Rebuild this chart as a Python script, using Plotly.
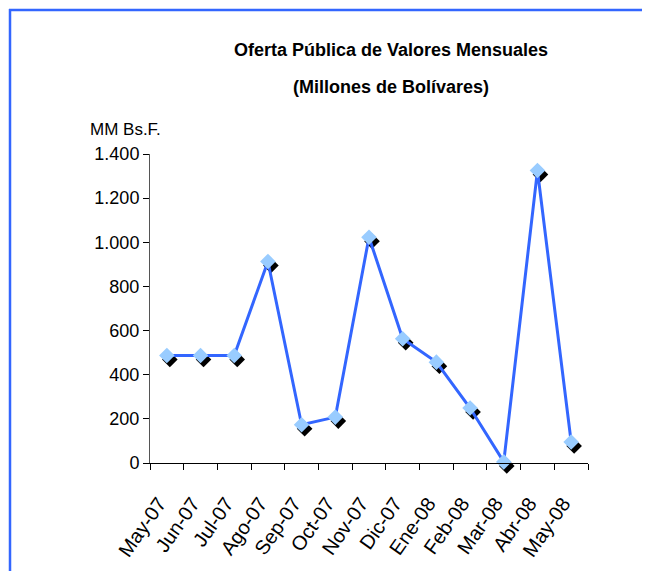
import plotly.graph_objects as go

meses = ["May-07", "Jun-07", "Jul-07", "Ago-07", "Sep-07", "Oct-07", "Nov-07",
         "Dic-07", "Ene-08", "Feb-08", "Mar-08", "Abr-08", "May-08"]
valores = [487, 487, 487, 913, 173, 208, 1023, 563, 457, 249, 5, 1325, 95]
y_ticks = [0, 200, 400, 600, 800, 1000, 1200, 1400]
y_tick_labels = ["0", "200", "400", "600", "800", "1.000", "1.200", "1.400"]

FONT = "Liberation Sans Narrow, Arial Narrow, Liberation Sans, Arial, sans-serif"
# page body adds an 8px margin, so the figure is 8px smaller and shifted
W, H = 642, 563
ML, MR, MT, MB = 142, 59, 146, 104
PW, PH = W - ML - MR, H - MT - MB
DX, DY = 3, 4

def px_x(x):
    return (x - ML) / PW

def px_y(y):
    return (H - MB - y) / PH

fig = go.Figure()
# shadow (drawn first, invisible axes shifted right/down)
fig.add_trace(go.Scatter(x=meses, y=valores, mode="markers",
                         marker=dict(symbol="diamond", size=12, color="black"),
                         cliponaxis=False, hoverinfo="skip", showlegend=False,
                         xaxis="x", yaxis="y"))
# main series
fig.add_trace(go.Scatter(x=meses, y=valores, mode="lines+markers",
                         line=dict(color="#3366FF", width=3),
                         marker=dict(symbol="diamond", size=12, color="#99CCFF"),
                         cliponaxis=False, showlegend=False,
                         xaxis="x2", yaxis="y2"))

hidden = dict(visible=False, showgrid=False, zeroline=False)
fig.update_layout(
    width=W, height=H,
    margin=dict(l=ML, r=MR, t=MT, b=MB),
    paper_bgcolor="white", plot_bgcolor="rgba(0,0,0,0)",
    font=dict(family=FONT, size=18, color="black"),
    xaxis=dict(domain=[DX / PW, 1], anchor="y", type="category",
               range=[-0.5, len(meses) - 0.5], **hidden),
    yaxis=dict(domain=[0, 1 - DY / PH], anchor="x", range=[0, 1400], **hidden),
    xaxis2=dict(domain=[0, 1 - DX / PW], anchor="y2", type="category",
                range=[-0.5, len(meses) - 0.5], showgrid=False, zeroline=False,
                showline=True, linecolor="black", linewidth=1, automargin=False,
                ticks="outside", ticklen=6, tickcolor="black", tickson="boundaries",
                tickangle=-55, ticklabelstandoff=20, ticklabelshift=-8,
                tickfont=dict(family=FONT, size=20)),
    yaxis2=dict(domain=[DY / PH, 1], anchor="x2", range=[0, 1400], showgrid=False,
                zeroline=False, showline=True, linecolor="#555", linewidth=1,
                automargin=False,
                ticks="outside", ticklen=6, tickcolor="black",
                tickvals=y_ticks, ticktext=y_tick_labels,
                tickfont=dict(family=FONT, size=18)),
    shapes=[
        dict(type="line", xref="paper", yref="paper", x0=px_x(1), x1=px_x(W + 5),
             y0=px_y(2), y1=px_y(2), line=dict(color="#3366FF", width=2.5)),
        dict(type="line", xref="paper", yref="paper", x0=px_x(2), x1=px_x(2),
             y0=px_y(H + 5), y1=px_y(1), line=dict(color="#3366FF", width=2.5)),
    ],
    annotations=[
        dict(text="<b>Oferta Pública de Valores Mensuales</b>", xref="paper", yref="paper",
             x=px_x(383), y=px_y(42), showarrow=False,
             xanchor="center", yanchor="middle", font=dict(size=18)),
        dict(text="<b>(Millones de Bolívares)</b>", xref="paper", yref="paper",
             x=px_x(383), y=px_y(79), showarrow=False,
             xanchor="center", yanchor="middle", font=dict(size=18)),
        dict(text="MM Bs.F.", xref="paper", yref="paper",
             x=px_x(80), y=px_y(122), showarrow=False,
             xanchor="left", yanchor="middle", font=dict(size=17)),
    ],
)

fig.write_html("out.html")
